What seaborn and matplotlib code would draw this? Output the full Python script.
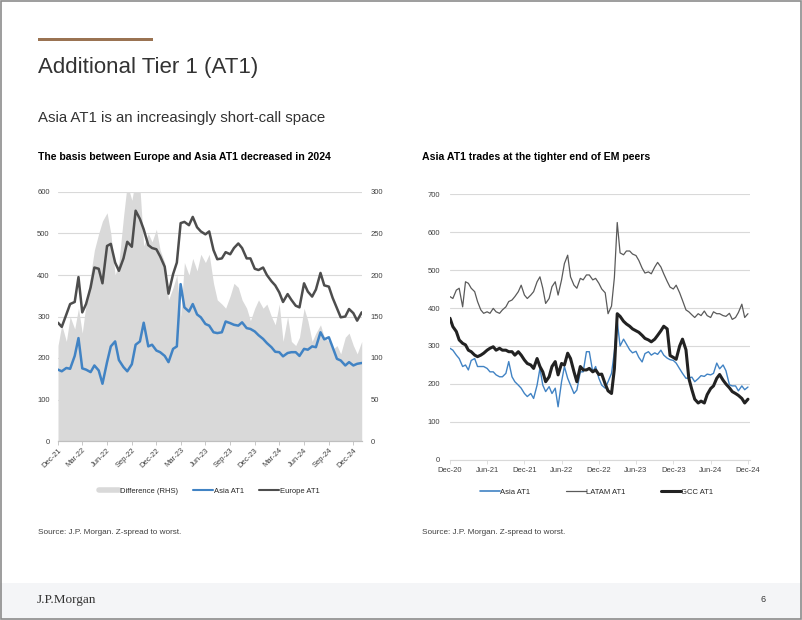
import pandas as pd
import seaborn as sns
import matplotlib.pyplot as plt
import matplotlib.dates as mdates
from matplotlib.lines import Line2D
from matplotlib.patches import Rectangle


# left chart: semi-monthly points, Dec-21 .. Jan-25
basis_dates = pd.date_range('2021-12-01', periods=75, freq='SMS')
europe_at1 = [285, 275, 305, 330, 335, 395, 310, 330, 370, 418, 415, 380, 470, 475, 430, 410,
              440, 480, 468, 555, 535, 510, 472, 465, 462, 445, 420, 355, 402, 430, 525, 528,
              520, 540, 515, 505, 498, 505, 460, 438, 440, 455, 450, 465, 476, 465, 440, 440,
              415, 412, 418, 400, 385, 375, 358, 335, 354, 340, 326, 322, 380, 360, 348, 365,
              405, 375, 372, 345, 320, 298, 300, 318, 308, 290, 310]
asia_at1 = [172, 168, 176, 174, 205, 248, 175, 172, 166, 182, 170, 138, 190, 228, 240, 195,
            178, 168, 185, 232, 240, 285, 228, 232, 218, 214, 205, 190, 222, 228, 378, 322,
            312, 330, 305, 298, 282, 278, 262, 260, 262, 288, 284, 280, 278, 286, 272, 270,
            264, 255, 246, 236, 226, 215, 214, 204, 212, 214, 214, 205, 222, 220, 228, 226,
            262, 245, 250, 226, 198, 194, 182, 190, 182, 186, 188]
difference_rhs = [115, 140, 120, 150, 135, 160, 130, 165, 200, 230, 250, 265, 275, 250, 200, 215,
                  270, 310, 290, 315, 305, 235, 250, 240, 255, 230, 215, 170, 185, 200, 150, 215,
                  200, 220, 205, 225, 215, 225, 190, 170, 165, 160, 175, 190, 185, 170, 160, 145,
                  160, 170, 160, 165, 150, 140, 165, 120, 150, 120, 115, 125, 160, 145, 120, 130,
                  140, 125, 120, 110, 115, 105, 125, 130, 115, 105, 120]

# right chart: semi-monthly points, Dec-20 .. Dec-24
peer_dates = pd.date_range('2020-12-01', periods=97, freq='SMS')
asia_peer = [294, 289, 276, 267, 246, 250, 237, 262, 267, 246, 246, 246, 241, 232, 232, 224,
             219, 219, 228, 259, 219, 206, 197, 189, 175, 167, 175, 162, 197, 241, 197, 180,
             193, 175, 189, 140, 206, 246, 215, 197, 175, 184, 232, 232, 285, 285, 232, 246,
             215, 197, 189, 206, 228, 285, 365, 300, 318, 305, 290, 282, 286, 270, 258, 280,
             285, 276, 282, 278, 289, 276, 268, 264, 262, 255, 240, 228, 215, 216, 218, 206,
             214, 222, 220, 226, 224, 228, 255, 240, 250, 235, 198, 195, 195, 182, 195, 185, 192]
latam_at1 = [430, 425, 447, 452, 403, 469, 465, 452, 443, 417, 395, 386, 390, 386, 399, 390,
             386, 395, 403, 417, 421, 430, 443, 460, 434, 425, 434, 443, 469, 482, 452, 412,
             425, 456, 469, 434, 474, 517, 539, 482, 460, 452, 478, 474, 487, 487, 474, 478,
             465, 450, 440, 385, 405, 480, 625, 545, 540, 550, 550, 542, 538, 525, 505, 492,
             495, 490, 508, 520, 508, 490, 470, 455, 450, 460, 440, 420, 395, 390, 382, 375,
             385, 380, 392, 380, 375, 390, 385, 385, 380, 378, 386, 370, 375, 388, 410, 375, 385]
gcc_at1 = [373, 351, 338, 316, 307, 303, 289, 285, 276, 272, 276, 281, 289, 294, 298, 289,
           294, 289, 289, 285, 285, 276, 285, 276, 263, 254, 250, 241, 267, 246, 232, 206,
           219, 246, 259, 224, 254, 250, 281, 267, 232, 206, 246, 237, 237, 241, 232, 237,
           225, 226, 200, 182, 175, 240, 385, 378, 365, 358, 352, 345, 340, 336, 328, 320,
           316, 311, 318, 328, 340, 352, 345, 275, 270, 265, 300, 318, 290, 215, 185, 160,
           150, 155, 150, 172, 188, 195, 215, 225, 210, 200, 190, 180, 175, 170, 162, 150, 160]

left_ticks = pd.date_range('2021-12-01', '2024-12-01', freq='3MS')
right_ticks = pd.date_range('2020-12-01', '2024-12-01', freq='6MS')

BLUE = '#4183c4'
EUROPE = '#4d4d4d'
LATAM = '#5a5a5a'
GCC = '#222222'
AREA = '#d9d9d9'
GRID = '#d9d9d9'
TXT = '#333333'

sns.set_theme(style='white')
plt.rcParams['font.family'] = ['Liberation Sans', 'DejaVu Sans']

fig = plt.figure(figsize=(8.02, 6.2), dpi=100)

# slide furniture
fig.patches.append(Rectangle((0, 0), 1, 37 / 620, transform=fig.transFigure,
                             facecolor='#f4f5f7', edgecolor='none', zorder=0))
fig.patches.append(Rectangle((0.0474, 1 - 41 / 620), 115 / 802, 3.5 / 620, transform=fig.transFigure,
                             facecolor='#9a7352', edgecolor='none'))
fig.patches.append(Rectangle((0.001, 0.001), 0.998, 0.997, transform=fig.transFigure,
                             fill=False, edgecolor='#8c8c8c', lw=1.2))
fig.text(0.0474, 1 - 73 / 620, 'Additional Tier 1 (AT1)', fontsize=16, color=TXT, va='baseline')
fig.text(0.0474, 1 - 122 / 620, 'Asia AT1 is an increasingly short-call space', fontsize=10.8,
         color=TXT, va='baseline')
fig.text(0.0474, 1 - 160 / 620, 'The basis between Europe and Asia AT1 decreased in 2024',
         fontsize=7.6, fontweight='bold', color='black', va='baseline')
fig.text(0.526, 1 - 160 / 620, 'Asia AT1 trades at the tighter end of EM peers',
         fontsize=7.6, fontweight='bold', color='black', va='baseline')
fig.text(0.0474, 1 - 532 / 620, 'Source: J.P. Morgan. Z-spread to worst.', fontsize=5.9,
         color='#404040', va='center')
fig.text(0.526, 1 - 532 / 620, 'Source: J.P. Morgan. Z-spread to worst.', fontsize=5.9,
         color='#404040', va='center')
fig.text(0.046, 1 - 600 / 620, 'J.P.Morgan', fontsize=9.5, family='Liberation Serif',
         color=TXT, va='center')
fig.text(0.952, 1 - 600 / 620, '6', fontsize=6.5, color=TXT, va='center', ha='center')

# ---- left chart
basis = pd.DataFrame({'date': basis_dates, 'Europe AT1': europe_at1,
                      'Asia AT1': asia_at1, 'Difference (RHS)': difference_rhs})

ax = fig.add_axes([58 / 802, 1 - 441 / 620, 304 / 802, 249 / 620])
ax2 = ax.twinx()
ax.set_zorder(ax2.get_zorder() + 1)
ax.patch.set_visible(False)

ax2.fill_between(basis['date'], 0, basis['Difference (RHS)'], color=AREA, lw=0)
ax2.set_ylim(0, 300)
ax2.set_yticks(range(0, 301, 50))
ax2.yaxis.grid(True, color=GRID, lw=0.8)
ax2.set_axisbelow(True)

sns.lineplot(data=basis, x='date', y='Asia AT1', ax=ax, color=BLUE, linewidth=1.8)
sns.lineplot(data=basis, x='date', y='Europe AT1', ax=ax, color=EUROPE, linewidth=1.8)
ax.set_ylim(0, 600)
ax.set_yticks(range(0, 601, 100))
ax.set_xlim(pd.Timestamp('2021-12-01'), pd.Timestamp('2025-01-02'))
ax.set_xticks(left_ticks)
ax.xaxis.set_major_formatter(mdates.DateFormatter('%b-%y'))
ax.set_xlabel('')
ax.set_ylabel('')
ax2.set_ylabel('')
ax.tick_params(axis='x', labelsize=5.5, labelcolor='#404040', length=3, width=0.6,
               color='#bfbfbf', bottom=True, pad=1)
ax.tick_params(axis='y', labelsize=5.5, labelcolor='#404040', length=0, pad=6)
ax2.tick_params(axis='y', labelsize=5.5, labelcolor='#404040', length=0, pad=6)
for lab in ax.get_xticklabels():
    lab.set_rotation(45)
    lab.set_ha('right')
    lab.set_rotation_mode('anchor')
for a in (ax, ax2):
    for s in ('top', 'left', 'right'):
        a.spines[s].set_visible(False)
    a.spines['bottom'].set_color('#bfbfbf')
    a.spines['bottom'].set_linewidth(0.8)

left_handles = [Line2D([], [], color=AREA, lw=4), Line2D([], [], color=BLUE, lw=1.5),
                Line2D([], [], color=EUROPE, lw=1.5)]
fig.legend(left_handles, ['Difference (RHS)', 'Asia AT1', 'Europe AT1'], loc='center',
           bbox_to_anchor=(0.261, 1 - 491 / 620), ncol=3, frameon=False, fontsize=5.5,
           handlelength=2.6, handletextpad=0.1, columnspacing=2.0)

# ---- right chart
peers = pd.DataFrame({'date': peer_dates, 'Asia AT1': asia_peer,
                      'LATAM AT1': latam_at1, 'GCC AT1': gcc_at1})

bx = fig.add_axes([450 / 802, 1 - 460 / 620, 300 / 802, 266 / 620])
sns.lineplot(data=peers, x='date', y='Asia AT1', ax=bx, color=BLUE, linewidth=1.0)
sns.lineplot(data=peers, x='date', y='LATAM AT1', ax=bx, color=LATAM, linewidth=0.9)
sns.lineplot(data=peers, x='date', y='GCC AT1', ax=bx, color=GCC, linewidth=2.2)
bx.set_ylim(0, 700)
bx.set_yticks(range(0, 701, 100))
bx.set_xlim(pd.Timestamp('2020-12-01'), pd.Timestamp('2024-12-11'))
bx.set_xticks(right_ticks)
bx.xaxis.set_major_formatter(mdates.DateFormatter('%b-%y'))
bx.set_xlabel('')
bx.set_ylabel('')
bx.yaxis.grid(True, color=GRID, lw=0.8)
bx.set_axisbelow(True)
bx.tick_params(axis='x', labelsize=5.5, labelcolor='#404040', length=3, width=0.6,
               color='#d9d9d9', bottom=True, pad=2)
bx.tick_params(axis='y', labelsize=5.5, labelcolor='#404040', length=0, pad=7)
for s in ('top', 'left', 'right'):
    bx.spines[s].set_visible(False)
bx.spines['bottom'].set_color(GRID)
bx.spines['bottom'].set_linewidth(0.8)

right_handles = [Line2D([], [], color=BLUE, lw=1.2), Line2D([], [], color=LATAM, lw=0.9),
                 Line2D([], [], color=GCC, lw=2.2)]
fig.legend(right_handles, ['Asia AT1', 'LATAM AT1', 'GCC AT1'], loc='center',
           bbox_to_anchor=(0.744, 1 - 492 / 620), ncol=3, frameon=False, fontsize=5.5,
           handlelength=2.6, handletextpad=0.1, columnspacing=4.6)

fig.savefig('out.png', dpi=100)
